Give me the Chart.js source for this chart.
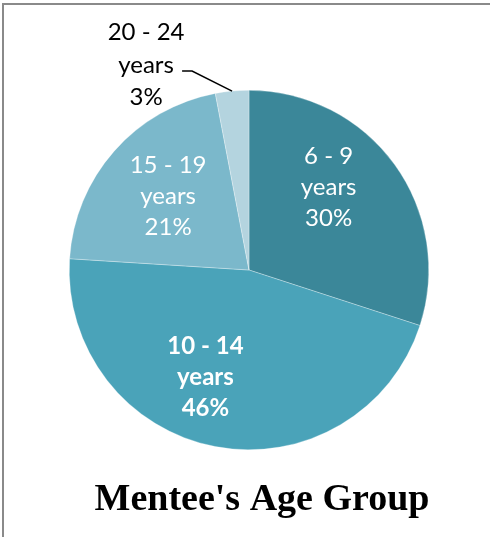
<!DOCTYPE html>
<html>
<head>
<meta charset="utf-8">
<title>Mentee's Age Group</title>
<script src="https://cdn.jsdelivr.net/npm/chart.js@4"></script>
<style>
    html, body { margin: 0; padding: 0; background: #fff; }
    #wrap { position: relative; width: 490px; height: 537px; overflow: hidden; }
    #frame {
        position: absolute; left: 2px; top: 3px; right: -10px; bottom: -10px;
        border-top: 2px solid #8a8a8a; border-left: 2px solid #8a8a8a;
        pointer-events: none;
    }
    canvas { position: absolute; left: 0; top: 0; }
</style>
</head>
<body>
<div id="wrap">
    <canvas id="ageChart" width="490" height="537"></canvas>
    <div id="frame"></div>
</div>
<script>
// --- data ---
const chartTitle = "Mentee's Age Group";
const ageRanges = ['6 - 9', '10 - 14', '15 - 19', '20 - 24'];
const ageUnit = 'years';
const shares = [30, 46, 21, 3]; // percent of mentees

// --- styling per slice ---
const sliceColors = ['#3b8799', '#4aa3b9', '#7bb8cb', '#b4d4df'];
const labelStyle = [
    { inside: true, bold: false, nudge: [-13, -15], frac: 0.637 },
    { inside: true, bold: true, nudge: [-22, -6], frac: 0.64 },
    { inside: true, bold: false, nudge: [0, -2], frac: 0.6 },
    { inside: false, bold: false, elbow: [-40, -20], tail: 10, textGap: 36, textRise: -6 }
];
const LINE_H = 31;

// draws "range / years / pct" labels, the small one outside with a leader line
const sliceLabels = {
    id: 'sliceLabels',
    afterDatasetsDraw(chart) {
        const ctx = chart.ctx;
        const meta = chart.getDatasetMeta(0);
        meta.data.forEach((arc, i) => {
            const p = arc.getProps(['x', 'y', 'startAngle', 'endAngle', 'outerRadius'], true);
            const mid = (p.startAngle + p.endAngle) / 2;
            const st = labelStyle[i];
            const lines = [ageRanges[i], ageUnit, shares[i] + '%'];
            let cx, cy, color;
            ctx.save();
            if (st.inside) {
                cx = p.x + Math.cos(mid) * p.outerRadius * st.frac + st.nudge[0];
                cy = p.y + Math.sin(mid) * p.outerRadius * st.frac + st.nudge[1];
                color = '#ffffff';
            } else {
                const ex = p.x + Math.cos(mid) * p.outerRadius;
                const ey = p.y + Math.sin(mid) * p.outerRadius;
                const bx = ex + st.elbow[0], by = ey + st.elbow[1];
                const tx = bx - st.tail;
                ctx.strokeStyle = '#000';
                ctx.lineWidth = 1.5;
                ctx.beginPath();
                ctx.moveTo(ex, ey);
                ctx.lineTo(bx, by);
                ctx.lineTo(tx, by);
                ctx.stroke();
                cx = tx - st.textGap;
                cy = by + st.textRise;
                color = '#000000';
            }
            ctx.fillStyle = color;
            ctx.textAlign = 'center';
            ctx.textBaseline = 'middle';
            ctx.font = (st.bold ? 'bold ' : '') + '24px Lato';
            const lh = st.inside ? LINE_H : 32.5;
            lines.forEach((t, k) => ctx.fillText(t, cx, cy + (k - 1) * lh));
            ctx.restore();
        });

        // title sits below the pie, a little right of its centre
        ctx.save();
        ctx.fillStyle = '#000';
        ctx.textAlign = 'center';
        ctx.textBaseline = 'alphabetic';
        ctx.font = 'bold 38px "Liberation Serif"';
        ctx.fillText(chartTitle, 262, 510);
        ctx.restore();
    }
};

new Chart(document.getElementById('ageChart'), {
    type: 'pie',
    data: {
        labels: ageRanges.map(r => r + ' ' + ageUnit),
        datasets: [{
            data: shares,
            backgroundColor: sliceColors,
            borderColor: 'rgba(255,255,255,0.6)',
            borderWidth: 0.5
        }]
    },
    options: {
        responsive: false,
        animation: false,
        layout: { padding: { left: 69, right: 61, top: 90, bottom: 87 } },
        plugins: {
            legend: { display: false },
            tooltip: { enabled: false },
            title: { display: false }
        }
    },
    plugins: [sliceLabels]
});
</script>
</body>
</html>
